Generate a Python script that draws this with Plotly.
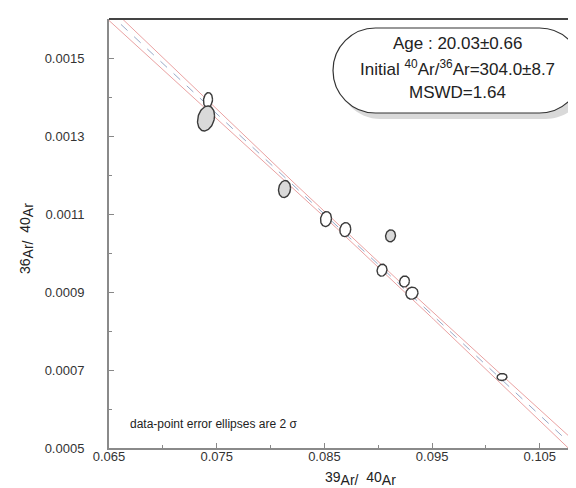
import numpy as np
import plotly.graph_objects as go

# ---- data ----
x_ratio = [0.07419, 0.07401, 0.08130, 0.08515, 0.08694, 0.09114, 0.09035, 0.09244, 0.09313, 0.10149]  # 39Ar/40Ar
y_ratio = [0.001392, 0.001345, 0.001164, 0.001087, 0.001060, 0.001044, 0.000956, 0.000927, 0.000897, 0.000682]  # 36Ar/40Ar
err_x = [0.00042, 0.00079, 0.00056, 0.00051, 0.00051, 0.00046, 0.00046, 0.00046, 0.00056, 0.00046]  # 2 sigma
err_y = [0.0000192, 0.000032, 0.0000218, 0.0000192, 0.000018, 0.0000154, 0.0000154, 0.0000141, 0.0000154, 0.000009]
rho = [0.12, 0.22, 0.12, 0.1, 0.1, 0.08, 0.1, 0.08, 0.08, 0.05]
excluded = [False, True, True, False, False, True, False, False, False, False]

# isochron fit
initial_ratio = 304.0          # 40Ar/36Ar
iso_slope = -0.025765
env_min = 0.0000064
env_growth = 0.00073
centroid_x = 0.088

x_ticks = [0.065, 0.075, 0.085, 0.095, 0.105]
y_ticks = [0.0005, 0.0007, 0.0009, 0.0011, 0.0013, 0.0015]

box_lines = ["Age : 20.03±0.66",
             "Initial <sup>40</sup>Ar/<sup>36</sup>Ar=304.0±8.7",
             "MSWD=1.64"]
note_text = "data-point error ellipses are 2 σ"

# ---- figure ----
fig = go.Figure()

xl = np.linspace(0.06, 0.115, 300)
yc = 1.0 / initial_ratio + iso_slope * xl
env = np.sqrt(env_min ** 2 + (env_growth * (xl - centroid_x)) ** 2)

for sgn in (1, -1):
    fig.add_trace(go.Scatter(x=xl, y=yc + sgn * env, mode="lines",
                             line=dict(color="#eaa2a2", width=1), hoverinfo="skip"))
fig.add_trace(go.Scatter(x=xl, y=yc, mode="lines",
                         line=dict(color="#98a9c8", width=1, dash="dash"), hoverinfo="skip"))

t = np.linspace(0, 2 * np.pi, 80)
for i in range(len(x_ratio)):
    ex = x_ratio[i] + err_x[i] * np.cos(t)
    ey = y_ratio[i] + err_y[i] * (rho[i] * np.cos(t) + np.sqrt(1 - rho[i] ** 2) * np.sin(t))
    fig.add_trace(go.Scatter(x=ex, y=ey, mode="lines", fill="toself",
                             fillcolor="#d9d9d9" if excluded[i] else "white",
                             line=dict(color="#3a3a3a", width=1.4), hoverinfo="skip"))

# ---- layout geometry ----
W, H = 576, 488
ml, mr, mt, mb = 101, 0, 11, 48
pw, ph = W - ml - mr, H - mt - mb


def px(xp, yp):
    return (xp - ml) / pw, (H - mb - yp) / ph


def stadium(left, top, right, bottom):
    r = (bottom - top) / 2.0
    k = 0.5523 * r
    cy = (top + bottom) / 2.0
    a, b = left + r, right - r
    pts = [
        ("M", [(a, top)]),
        ("L", [(b, top)]),
        ("C", [(b + k, top), (right, cy - k), (right, cy)]),
        ("C", [(right, cy + k), (b + k, bottom), (b, bottom)]),
        ("L", [(a, bottom)]),
        ("C", [(a - k, bottom), (left, cy + k), (left, cy)]),
        ("C", [(left, cy - k), (a - k, top), (a, top)]),
    ]
    s = ""
    for cmd, plist in pts:
        s += cmd + " " + " ".join("%.5f,%.5f" % px(xx, yy) for xx, yy in plist) + " "
    return s + "Z"


shapes = [
    dict(type="path", xref="paper", yref="paper", path=stadium(330, 26, 580, 111),
         fillcolor="#d9d9d9", line=dict(width=0), layer="above"),
    dict(type="path", xref="paper", yref="paper", path=stadium(325, 20, 574, 105),
         fillcolor="white", line=dict(color="#333333", width=1.2), layer="above"),
    dict(type="line", xref="paper", yref="paper", x0=0, x1=1, y0=1, y1=1,
         line=dict(color="#444444", width=2)),
]

FONT = "Liberation Sans, Arial"
SUB = '<sub><span style="font-size:14px">%s</span></sub>'

annotations = []
for txt, yp in zip(box_lines, [35, 60, 84]):
    xa, ya = px(449, yp)
    annotations.append(dict(x=xa, y=ya, xref="paper", yref="paper", text=txt, showarrow=False,
                            font=dict(family=FONT, size=17, color="#222222"),
                            xanchor="center", yanchor="middle"))
xa, ya = px(120, 416)
annotations.append(dict(x=xa, y=ya, xref="paper", yref="paper", text=note_text, showarrow=False,
                        font=dict(family=FONT, size=12, color="#222222"),
                        xanchor="left", yanchor="middle"))
xa, ya = px(352, 470)
annotations.append(dict(x=xa, y=ya, xref="paper", yref="paper",
                        text="39" + SUB % "Ar/" + "  40" + SUB % "Ar", showarrow=False,
                        font=dict(family=FONT, size=14, color="#222222"),
                        xanchor="center", yanchor="middle"))
xa, ya = px(19, 231)
annotations.append(dict(x=xa, y=ya, xref="paper", yref="paper", textangle=-90,
                        text="36" + SUB % "Ar/" + "  40" + SUB % "Ar", showarrow=False,
                        font=dict(family=FONT, size=14, color="#222222"),
                        xanchor="center", yanchor="middle"))

axis_common = dict(showgrid=False, zeroline=False, ticks="inside", ticklen=5, tickwidth=1,
                   tickcolor="#888888", showline=True, linecolor="#8a8a8a", linewidth=2,
                   tickfont=dict(family=FONT, size=13, color="#333333"))

fig.update_layout(
    width=W, height=H,
    margin=dict(l=ml, r=mr, t=mt, b=mb),
    paper_bgcolor="white", plot_bgcolor="white",
    showlegend=False,
    shapes=shapes, annotations=annotations,
    xaxis=dict(range=[0.065, 0.065 + pw / 10770.0], tickvals=x_ticks, tickformat=".3f",
               minor=dict(dtick=0.005, tick0=0.065, ticks="inside", ticklen=3, tickcolor="#888888"),
               ticklabelstandoff=-5, **axis_common),
    yaxis=dict(range=[0.0005, 0.0016], tickvals=y_ticks, tickformat=".4f",
               minor=dict(dtick=0.0001, tick0=0.0005, ticks="inside", ticklen=3, tickcolor="#888888"),
               ticklabelstandoff=20, **axis_common),
)

fig.write_html("out.html")
